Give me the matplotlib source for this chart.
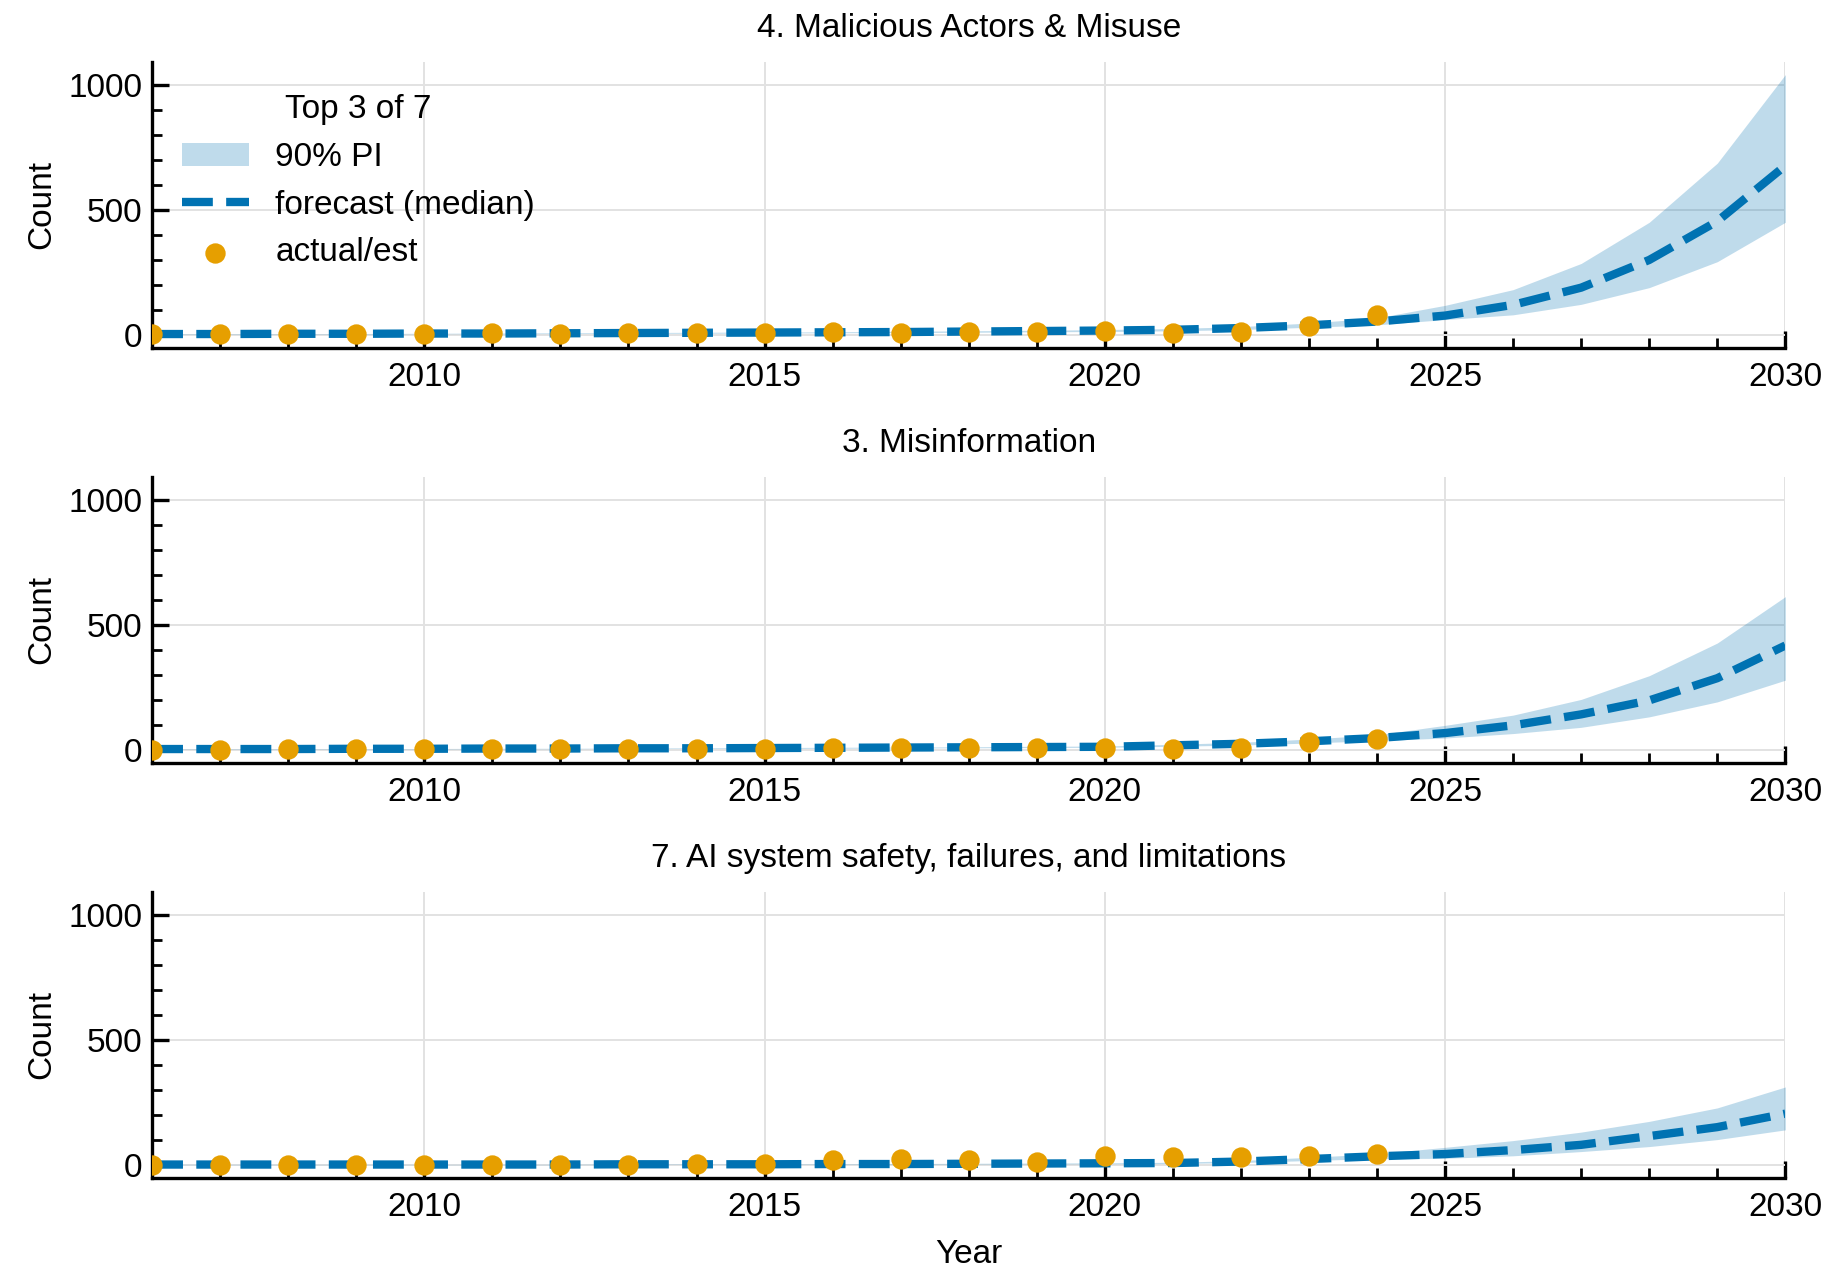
import numpy as np
import matplotlib
matplotlib.use("Agg")
import matplotlib.pyplot as plt
from matplotlib.ticker import MultipleLocator

plt.rcParams['font.family'] = ['Liberation Sans', 'DejaVu Sans']
plt.rcParams['font.size'] = 12

years = list(range(2006, 2031))
actual_years = list(range(2006, 2025))

titles = ["4. Malicious Actors & Misuse", "3. Misinformation",
          "7. AI system safety, failures, and limitations"]

# 4. Malicious Actors & Misuse
mal_actual = [2, 3, 3, 4, 5, 6, 5, 7, 7, 9, 10, 9, 10, 12, 14, 7, 10, 36, 81]
mal_median = [3, 3, 4, 4, 5, 5, 6, 7, 8, 9, 10, 11, 13, 15, 17, 20, 27, 38, 53,
              77, 120, 189, 300, 455, 678]
mal_low = [2, 2, 3, 3, 4, 4, 5, 6, 6, 7, 8, 9, 10, 12, 13, 16, 21, 30, 40,
           61, 80, 122, 189, 293, 451]
mal_high = [4, 4, 5, 5, 6, 7, 8, 9, 10, 11, 12, 14, 16, 18, 21, 25, 33, 47, 68,
            118, 181, 286, 451, 688, 1043]

# 3. Misinformation
mis_actual = [1, 1, 2, 2, 2, 3, 3, 4, 5, 5, 6, 7, 8, 9, 9, 3, 9, 30, 43]
mis_median = [3, 3, 3, 4, 4, 5, 5, 6, 6, 7, 8, 9, 10, 11, 12, 18, 24, 34, 47,
              67, 98, 142, 198, 287, 418]
mis_low = [2, 2, 2, 3, 3, 4, 4, 5, 5, 5, 6, 7, 8, 9, 10, 14, 19, 27, 37,
           47, 65, 90, 132, 192, 279]
mis_high = [4, 4, 4, 5, 5, 6, 6, 7, 8, 9, 10, 11, 12, 14, 15, 22, 30, 43, 60,
            98, 139, 202, 297, 428, 614]

# 7. AI system safety, failures, and limitations
saf_actual = [1, 1, 1, 1, 1, 1, 1, 1, 2, 2, 18, 22, 20, 13, 34, 32, 30, 34, 43]
saf_median = [1, 1, 1, 1, 1, 1, 1, 2, 2, 2, 3, 3, 4, 5, 6, 7, 13, 23, 34,
              43, 59, 80, 115, 151, 205]
saf_low = [0, 0, 0, 0, 0, 0, 0, 1, 1, 1, 2, 2, 3, 3, 4, 5, 9, 17, 25,
           26, 36, 53, 73, 101, 140]
saf_high = [2, 2, 2, 2, 2, 2, 2, 3, 3, 3, 4, 5, 6, 7, 8, 10, 17, 30, 44,
            70, 97, 131, 174, 228, 312]

series = [
    (mal_actual, mal_median, mal_low, mal_high),
    (mis_actual, mis_median, mis_low, mis_high),
    (saf_actual, saf_median, saf_low, saf_high),
]

blue = "#0072B2"
orange = "#E69F00"

fig, axes = plt.subplots(3, 1, figsize=(9.165, 6.415), dpi=200, sharey=True)
fig.subplots_adjust(left=0.083, right=0.974, top=0.952, bottom=0.082, hspace=0.45)

for ax, title, (act, med, lo, hi) in zip(axes, titles, series):
    ax.fill_between(years, lo, hi, color=blue, alpha=0.25, linewidth=0, label="90% PI")
    ax.plot(years, med, color=blue, linestyle="--", linewidth=3, label="forecast (median)")
    ax.scatter(actual_years, act, color=orange, s=40, zorder=3, label="actual/est")
    ax.set_title(title, fontsize=12, pad=9)
    ax.set_ylabel("Count")
    ax.set_xlim(2006, 2030)
    ax.xaxis.set_major_locator(MultipleLocator(5))
    ax.xaxis.set_minor_locator(MultipleLocator(1))
    ax.yaxis.set_major_locator(MultipleLocator(500))
    ax.yaxis.set_minor_locator(MultipleLocator(100))
    ax.tick_params(which="both", direction="in", labelsize=12)
    ax.tick_params(which="major", length=6, width=1.2)
    ax.tick_params(axis="x", which="major", pad=5)
    ax.tick_params(which="minor", length=3.5, width=1)
    ax.grid(True, which="major", color="#e2e2e2", linewidth=0.7)
    ax.set_axisbelow(True)
    ax.spines["top"].set_visible(False)
    ax.spines["right"].set_visible(False)
    ax.spines["left"].set_linewidth(1.2)
    ax.spines["bottom"].set_linewidth(1.2)

axes[0].legend(title="Top 3 of 7", loc="upper left", frameon=False, fontsize=12,
               title_fontsize=12, bbox_to_anchor=(0.0, 0.99))
axes[-1].set_xlabel("Year", labelpad=6)

fig.savefig("out.png", dpi=200)
